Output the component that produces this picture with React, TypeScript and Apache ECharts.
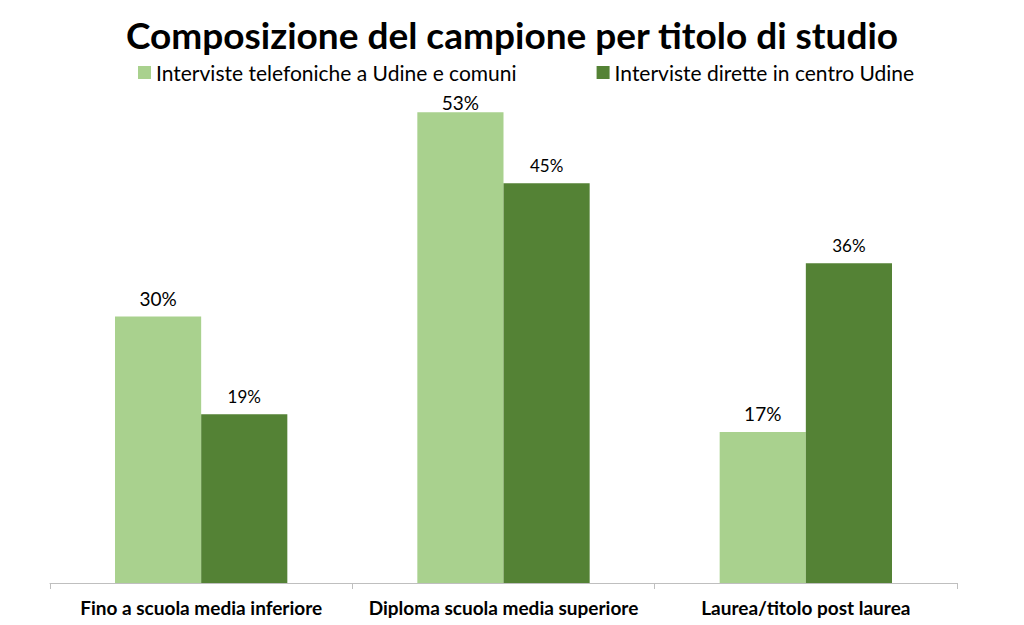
import React, { useEffect, useRef } from "react";
import * as echarts from "echarts";

const categories = [
  "Fino a scuola media inferiore",
  "Diploma scuola media superiore",
  "Laurea/titolo post laurea",
];
const seriesNames = [
  "Interviste telefoniche a Udine e comuni",
  "Interviste dirette in centro Udine",
];
const telefoniche = [30, 53, 17];
const dirette = [19, 45, 36];

export default function App() {
  const ref = useRef<HTMLDivElement>(null);
  useEffect(() => {
    if (!ref.current) return;
    const chart = echarts.init(ref.current, null, { renderer: "svg" });
    // Labels of the tallest bar get pushed down to the plot-area top, as in the original
    const maxTel = Math.max(...telefoniche);
    const telData = telefoniche.map((v) =>
      v === maxTel ? { value: v, label: { distance: 0 } } : v
    );
    chart.setOption({
      animation: false,
      backgroundColor: "#ffffff",
      textStyle: { fontFamily: "Lato" },
      title: {
        text: "Composizione del campione per titolo di studio",
        left: "center",
        top: 11,
        textStyle: { fontFamily: "Lato", fontSize: 37, fontWeight: "bold", color: "#000000" },
      },
      legend: {
        top: 57,
        left: 133,
        itemWidth: 13,
        itemHeight: 13,
        itemGap: 80,
        icon: "rect",
        textStyle: { fontFamily: "Lato", fontSize: 21, color: "#000000" },
        data: seriesNames,
      },
      grid: { left: 50, right: 67, top: 50, bottom: 42 },
      xAxis: {
        type: "category",
        data: categories,
        axisLine: { lineStyle: { color: "#bfbfbf", width: 1 } },
        axisTick: { show: true, length: 6, lineStyle: { color: "#bfbfbf" } },
        axisLabel: {
          interval: 0,
          fontFamily: "Lato",
          fontSize: 19,
          fontWeight: "bold",
          color: "#000000",
          margin: 15,
        },
      },
      yAxis: {
        type: "value",
        min: 0,
        max: 60,
        show: false,
        splitLine: { show: false },
      },
      series: [
        {
          name: seriesNames[0],
          type: "bar",
          data: telData,
          barGap: "0%",
          barCategoryGap: "43%",
          itemStyle: { color: "#a9d18e" },
          label: {
            show: true,
            position: "top",
            distance: 9,
            formatter: "{c}%",
            fontFamily: "Lato",
            fontSize: 19,
            color: "#000000",
          },
        },
        {
          name: seriesNames[1],
          type: "bar",
          data: dirette,
          barGap: "0%",
          barCategoryGap: "43%",
          itemStyle: { color: "#548235" },
          label: {
            show: true,
            position: "top",
            distance: 9,
            formatter: "{c}%",
            fontFamily: "Lato",
            fontSize: 17,
            color: "#000000",
          },
        },
      ],
    });
    return () => chart.dispose();
  }, []);
  return <div ref={ref} style={{ width: 1024, height: 625, position: "absolute", left: 0, top: 0 }} />;
}
